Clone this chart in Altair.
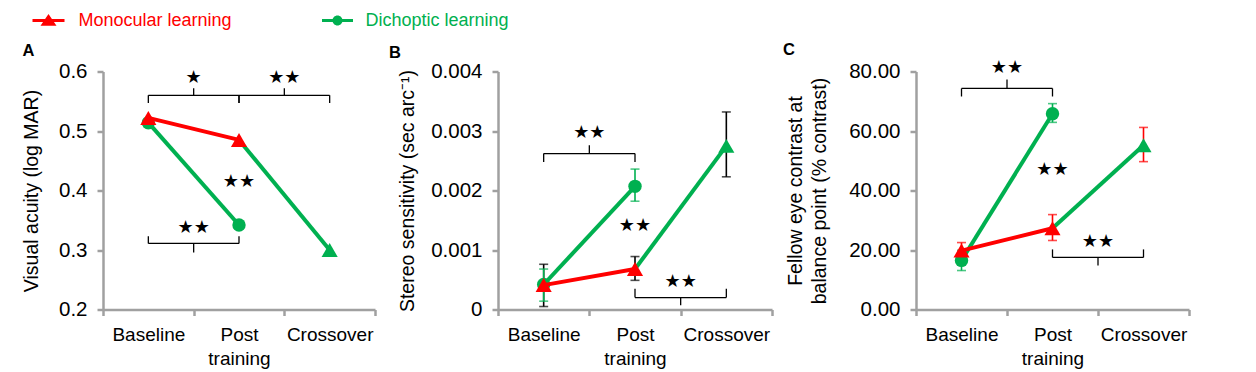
import altair as alt
import pandas as pd

FONT = "Liberation Sans"
RED = "#ff0000"
GREEN = "#00b050"
GRAY = "#a0a0a0"

CATS = ["Baseline", "Post training", "Crossover"]
SERIES = ["Monocular learning", "Dichoptic learning"]

# ---- Panel A : Visual acuity (log MAR)
A_MONO = [0.522, 0.485]
A_DICH = [0.514, 0.342]
A_CROSS = 0.300
A_BRACKETS = [("Baseline", "Post training", 0.560, 0.547, 0.572),
              ("Post training", "Crossover", 0.560, 0.547, 0.572),
              ("Baseline", "Post training", 0.311, 0.323, 0.296)]
A_STARS = [("Post training", 0.589, "★", "b"),
           ("Crossover", 0.589, "★★", "b"),
           ("Post training", 0.415, "★★", "c"),
           ("Post training", 0.337, "★★", "b")]

# ---- Panel B : Stereo sensitivity
B_MONO = [0.00041, 0.00068]
B_DICH = [0.00042, 0.00207]
B_CROSS = 0.00275
B_MONO_ERR = [(0.00005, 0.00076), (0.00049, 0.00089)]
B_DICH_ERR = [(0.00014, 0.00068), (0.00182, 0.00236)]
B_CROSS_ERR = (0.00223, 0.00332)
B_ERR_COLORS = ["black", GREEN, "black"]
B_BRACKETS = [("Baseline", "Post training", 0.00262, 0.00248, 0.00276),
              ("Post training", "Crossover", 0.00020, 0.00035, 0.00007)]
B_STARS = [("Post training", 0.00296, "★★", "b"),
           ("Post training", 0.00141, "★★", "c"),
           ("Crossover", 0.00047, "★★", "b")]

# ---- Panel C : Fellow eye contrast at balance point
C_MONO = [19.8, 27.3]
C_DICH = [16.5, 65.8]
C_CROSS = 55.2
C_MONO_ERR = [(17.1, 22.5), (23.2, 31.9)]
C_DICH_ERR = [(13.1, 19.9), (62.9, 69.2)]
C_CROSS_ERR = (49.7, 61.2)
C_ERR_COLORS = [RED, GREEN, RED]
C_BRACKETS = [("Baseline", "Post training", 74.3, 71.6, 77.3),
              ("Post training", "Crossover", 17.5, 20.2, 14.8)]
C_STARS = [("Post training", 81.3, "★★", "b"),
           ("Post training", 47.0, "★★", "c"),
           ("Crossover", 22.6, "★★", "b")]

# legend glyphs (line with marker), unit = 5 px for symbolSize 100
TRI_PATH = "M-3.2,-0.3H3.2V0.3H-3.2Z M0,-1.3L1.6,1.05H-1.6Z"
CIRC_PATH = ("M-3.1,-0.3H3.1V0.3H-3.1Z M-1,0 A1,1 0 1 1 1,0 "
             "A1,1 0 1 1 -1,0 Z")


def panel(letter, mono, dich, cross, errs, err_colors, brackets, stars,
          ydomain, yticks, yfmt, ytitle, title_x, width, title_dx,
          title_dy, legend):
    xs = alt.Scale(type="band", domain=CATS, paddingInner=0, paddingOuter=0)
    ys = alt.Scale(domain=ydomain, nice=False, zero=False)
    xaxis = alt.Axis(tickBand="extent", grid=False, domainColor=GRAY,
                     domainWidth=2.5, tickColor=GRAY, tickWidth=2.5,
                     tickSize=6, labelAngle=0, labelFont=FONT,
                     labelFontSize=19, labelColor="black", labelPadding=10,
                     labelLineHeight=23.5,
                     labelExpr="split(datum.label, ' ')")
    yaxis = alt.Axis(values=yticks, format=yfmt, grid=False,
                     domainColor=GRAY, domainWidth=2.5, tickColor=GRAY,
                     tickWidth=2.5, tickSize=6, labelFont=FONT,
                     labelFontSize=20.5, labelColor="black", labelPadding=10,
                     titleFont=FONT, titleFontSize=19.5,
                     titleFontWeight="normal", titleColor="black",
                     titleX=title_x, titleY=119, titleAngle=270,
                     titleAlign="center", titleBaseline="middle",
                     titleLineHeight=24)

    def X(field="cat", band=0.5):
        return alt.X(f"{field}:N", scale=xs, sort=CATS, axis=xaxis,
                     title=None, bandPosition=band)

    def Y(field="val"):
        return alt.Y(f"{field}:Q", scale=ys, axis=yaxis, title=ytitle)

    mono_df = pd.DataFrame({"cat": CATS[:2], "val": mono,
                            "series": SERIES[0]})
    dich_df = pd.DataFrame({"cat": CATS[:2], "val": dich,
                            "series": SERIES[1]})
    cross_df = pd.DataFrame({"cat": CATS[1:], "val": [mono[1], cross]})

    layers = []
    if errs is not None:
        rows = []
        for i, (lo, hi) in enumerate(errs[0]):
            rows.append((CATS[i], lo, hi, err_colors[0]))
        for i, (lo, hi) in enumerate(errs[1]):
            rows.append((CATS[i], lo, hi, err_colors[1]))
        rows.append((CATS[2], errs[2][0], errs[2][1], err_colors[2]))
        err_df = pd.DataFrame(rows, columns=["cat", "lo", "hi", "ec"])
        ec = alt.Color("ec:N", scale=None)
        base = alt.Chart(err_df)
        layers.append(base.mark_rule(strokeWidth=1.6).encode(
            x=X(), y=Y("lo"), y2="hi:Q", color=ec))
        layers.append(base.mark_tick(size=9, thickness=1.6).encode(
            x=X(), y=Y("lo"), color=ec))
        layers.append(base.mark_tick(size=9, thickness=1.6).encode(
            x=X(), y=Y("hi"), color=ec))

    # brackets
    br_df = pd.DataFrame(brackets, columns=["c1", "c2", "y", "yh", "yt"])
    hooks = pd.concat([br_df[["c1", "y", "yh"]].rename(columns={"c1": "cat"}),
                       br_df[["c2", "y", "yh"]].rename(columns={"c2": "cat"})])
    layers.append(alt.Chart(br_df).mark_rule(color="black", strokeWidth=1.3)
                  .encode(x=X("c1"), x2="c2:N", y=Y("y")))
    layers.append(alt.Chart(hooks).mark_rule(color="black", strokeWidth=1.3)
                  .encode(x=X("cat"), y=Y("y"), y2="yh:Q"))
    layers.append(alt.Chart(br_df).mark_rule(color="black", strokeWidth=1.3)
                  .encode(x=X("c2", 0), y=Y("y"), y2="yt:Q"))

    st_df = pd.DataFrame(stars, columns=["cat", "val", "txt", "pos"])
    for pos, band in (("b", 0), ("c", 0.5)):
        layers.append(alt.Chart(st_df[st_df.pos == pos])
                      .mark_text(font="DejaVu Sans", fontSize=18,
                                 baseline="middle", align="center",
                                 color="black")
                      .encode(x=X("cat", band), y=Y(), text="txt:N"))

    # green lines and markers
    layers.append(alt.Chart(dich_df).mark_line(color=GREEN, strokeWidth=4)
                  .encode(x=X(), y=Y()))
    leg_d = None
    leg_m = None
    if legend:
        leg_m = alt.Legend(orient="none", legendX=-63.5, legendY=-60,
                           direction="horizontal", symbolType=TRI_PATH,
                           symbolSize=100, labelFont=FONT,
                           labelFontSize=18, labelColor=RED,
                           labelOffset=21, padding=0, symbolStrokeWidth=0)
        leg_d = alt.Legend(orient="none", legendX=225.5, legendY=-60,
                           direction="horizontal", symbolType=CIRC_PATH,
                           symbolSize=100, labelFont=FONT,
                           labelFontSize=18, labelColor=GREEN,
                           labelOffset=19, padding=0, symbolStrokeWidth=0)
    dcol = alt.Color("series:N", scale=alt.Scale(domain=[SERIES[1]],
                                                 range=[GREEN]),
                     title=None, legend=leg_d)
    mcol = alt.Color("series:N", scale=alt.Scale(domain=[SERIES[0]],
                                                 range=[RED]),
                     title=None, legend=leg_m)
    layers.append(alt.Chart(dich_df).mark_point(shape="circle", filled=True,
                                                size=180, opacity=1)
                  .encode(x=X(), y=Y(), color=dcol))
    layers.append(alt.Chart(cross_df).mark_line(color=GREEN, strokeWidth=4)
                  .encode(x=X(), y=Y()))
    layers.append(alt.Chart(cross_df.iloc[1:]).mark_point(
        shape="triangle-up", filled=True, size=260, opacity=1, color=GREEN)
        .encode(x=X(), y=Y()))
    layers.append(alt.Chart(mono_df).mark_line(color=RED, strokeWidth=4)
                  .encode(x=X(), y=Y()))
    layers.append(alt.Chart(mono_df).mark_point(shape="triangle-up",
                                                filled=True, size=260,
                                                opacity=1)
                  .encode(x=X(), y=Y(), color=mcol))

    return alt.layer(*layers).resolve_scale(color="independent").properties(
        width=width, height=238,
        title=alt.TitleParams(text=letter, anchor="start", frame="group",
                              dx=title_dx, dy=title_dy, fontSize=16.5,
                              fontWeight="bold", font=FONT, color="black",
                              offset=0.5))


def spacer(w):
    return alt.Chart(pd.DataFrame({"v": [0]})).mark_text(text="").encode(
        x=alt.value(0), y=alt.value(0)).properties(width=w, height=238)


pA = panel("A", A_MONO, A_DICH, A_CROSS, None, None, A_BRACKETS, A_STARS,
           [0.2, 0.6], [0.2, 0.3, 0.4, 0.5, 0.6], ".1f",
           "Visual acuity (log MAR)", -71.5, 272, -80.5, 48.5, True)
pB = panel("B", B_MONO, B_DICH, B_CROSS, (B_MONO_ERR, B_DICH_ERR, B_CROSS_ERR),
           B_ERR_COLORS, B_BRACKETS, B_STARS, [0, 0.004],
           [0, 0.001, 0.002, 0.003, 0.004], "~g",
           "Stereo sensitivity (sec arc⁻¹)", -91, 274, -109, 0, False)
pC = panel("C", C_MONO, C_DICH, C_CROSS, (C_MONO_ERR, C_DICH_ERR, C_CROSS_ERR),
           C_ERR_COLORS, C_BRACKETS, C_STARS, [0, 80],
           [0, 20, 40, 60, 80], ".2f",
           ["Fellow eye contrast at", "balance point (% contrast)"],
           -121, 273, -133, 0, False)

chart = alt.hconcat(pA, spacer(122.5), pB, spacer(144), pC, spacing=0,
                    bounds="flush").resolve_scale(
    x="independent", y="independent", color="independent").properties(
    padding={"left": 13, "top": 2.5, "right": 0, "bottom": 0}
).configure_view(stroke="transparent")

chart.save("out.html", embed_options={"renderer": "svg", "actions": False})
